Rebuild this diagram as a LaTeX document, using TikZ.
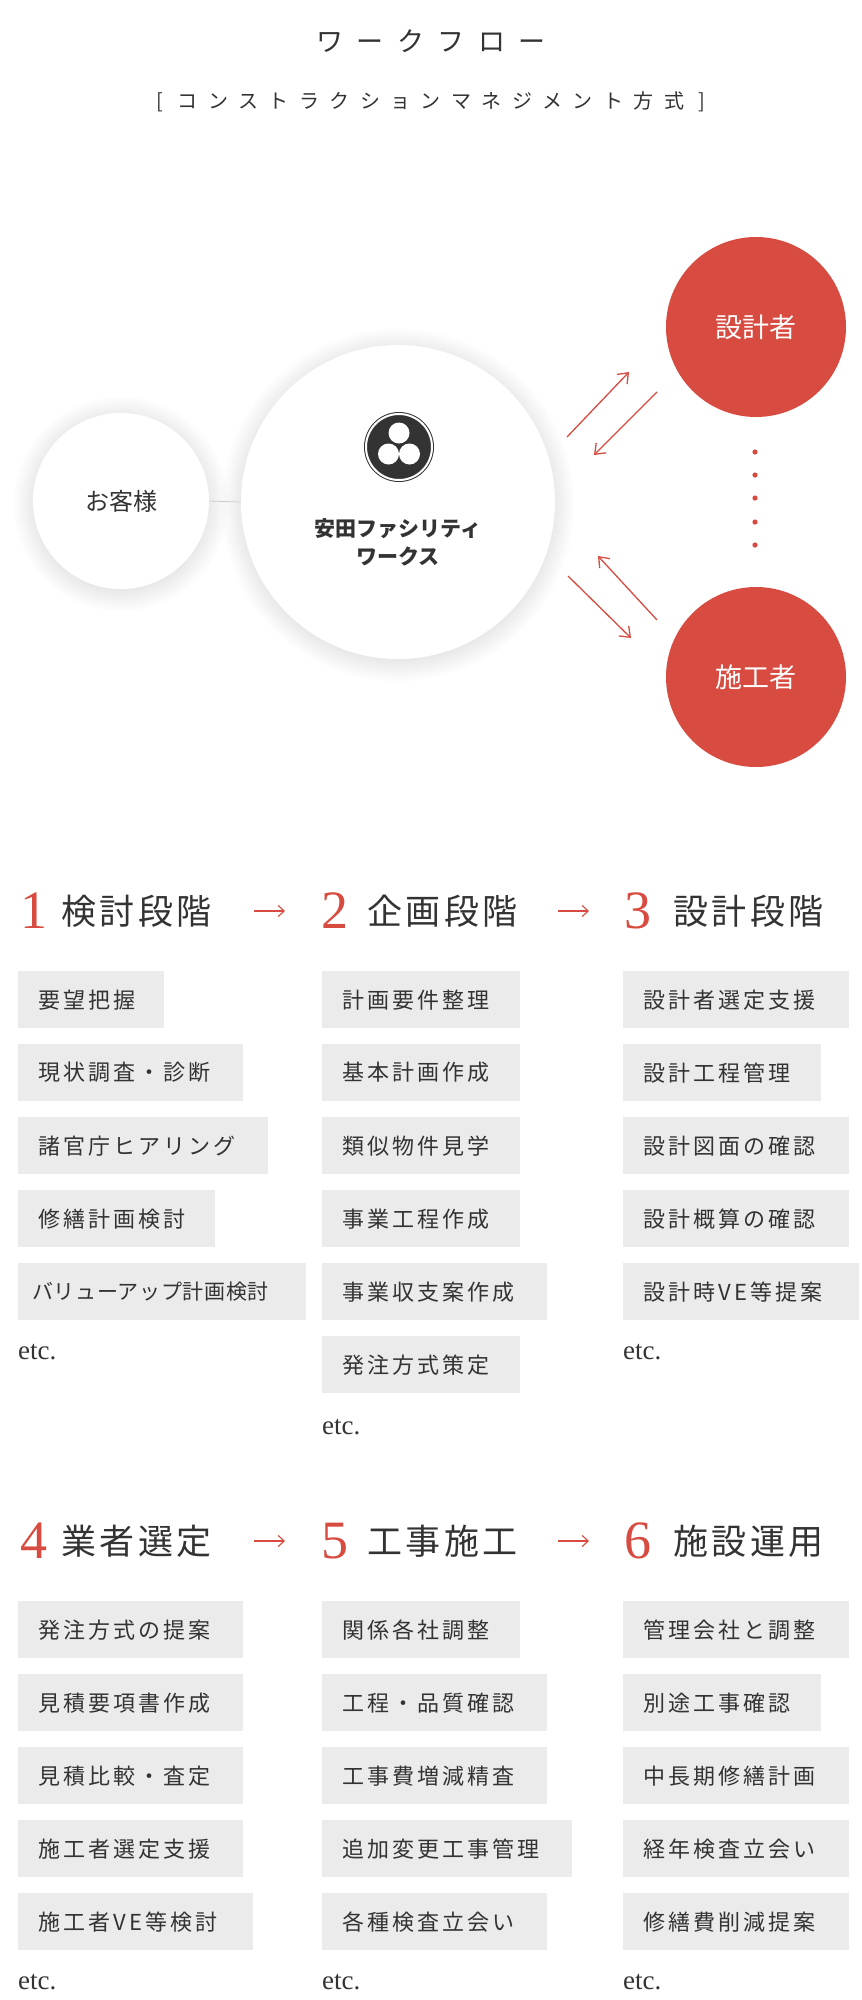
\documentclass[tikz,border=0pt]{standalone}
\usepackage{fontspec}
\setmainfont{Noto Sans CJK JP}
\newfontfamily\jp{Noto Sans CJK JP}
\newfontfamily\lat{Liberation Serif}
\usetikzlibrary{arrows.meta}
\definecolor{accent}{HTML}{D84B40}
\definecolor{boxgray}{HTML}{EBEBEB}
\definecolor{txt}{HTML}{333333}
\tikzset{
  itembox/.style={fill=boxgray,anchor=north west,minimum height=57pt,inner xsep=0pt,inner ysep=0pt,text=txt,font=\fontsize{22}{22}\selectfont\addfontfeature{LetterSpace=14}},
  head/.style={anchor=west,text=txt,font=\fontsize{35}{35}\selectfont\addfontfeature{LetterSpace=10},inner sep=0pt},
  num/.style={anchor=west,text=accent,font=\lat\fontsize{54}{54}\selectfont,inner sep=0pt},
  etcs/.style={anchor=west,text=txt,font=\lat\fontsize{27}{27}\selectfont,inner sep=0pt},
  whitec/.style={circle,fill=white},
  redc/.style={circle,fill=accent,text=white,font=\fontsize{27}{27}\selectfont},
  rarrow/.style={draw=accent,line width=1.3pt,-{Straight Barb[length=9pt,width=14pt]}},
}
\newcommand{\itembox}[5]{\node[itembox,minimum width=#3pt,text width=#3pt] (#5) at (#1,#2) {\hspace*{20pt}#4};}
\newcommand{\softshadow}[3]{\foreach \i in {1,...,22} \fill[black,opacity=0.0035] (#1,#2+3) circle ({#3+\i});}
\begin{document}
\begin{tikzpicture}[x=1pt,y=-1pt]
\useasboundingbox (0,0) rectangle (862,2000);
\fill[white] (0,0) rectangle (862,2000);
% title
\node[text=txt,font=\fontsize{27}{27}\selectfont\addfontfeature{LetterSpace=50}] (title) at (431,41) {ワークフロー};
\node[text=txt,font=\fontsize{20}{20}\selectfont\addfontfeature{LetterSpace=52}] (sub) at (431,102) {[ コンストラクションマネジメント方式 ]};
% diagram
\softshadow{121}{501}{86}
\softshadow{398}{502}{155}
\node[whitec,minimum size=176pt] (cust) at (121,501) {};
\node[whitec,minimum size=314pt] (yasuda) at (398,502) {};
\draw[gray!40,line width=0.8pt] (cust.east) -- (yasuda.west);
\node[text=txt,font=\fontsize{24}{24}\selectfont] (custt) at (121,501) {お客様};
\node[circle,fill=txt,draw=txt,minimum size=66pt,line width=1pt,double=white,double distance=2pt] (logo) at (399,447) {};
\fill[white] (399,433) circle (10.5pt);
\fill[white] (388.5,454) circle (10.5pt);
\fill[white] (409.5,454) circle (10.5pt);
\node[text=txt,font=\bfseries\fontsize{21}{28}\selectfont,align=center] (ytext) at (398,542) {安田ファシリティ\\ワークス};
\node[redc,minimum size=180pt] (des) at (756,327) {設計者};
\node[redc,minimum size=180pt] (con) at (756,677) {施工者};
\foreach \yy in {452,475,498,522,545} \fill[accent] (755,\yy) circle (2.6pt);
\coordinate (a1s) at (567,437); \coordinate (a1e) at (629,372);
\coordinate (a2s) at (657,392); \coordinate (a2e) at (594,455);
\coordinate (a3s) at (568,576); \coordinate (a3e) at (631,638);
\coordinate (a4s) at (657,620); \coordinate (a4e) at (598,556);
\draw[rarrow] (a1s) -- (a1e);
\draw[rarrow] (a2s) -- (a2e);
\draw[rarrow] (a3s) -- (a3e);
\draw[rarrow] (a4s) -- (a4e);
% headings top
\node[num] (n1) at (20,911) {1};
\node[head] (h1) at (61,911) {検討段階};
\node[num] (n2) at (321,911) {2};
\node[head] (h2) at (367,911) {企画段階};
\node[num] (n3) at (624,911) {3};
\node[head] (h3) at (673,911) {設計段階};
\draw[accent,line width=1.1pt,-{Straight Barb[length=6pt,width=11pt]}] (254,911) -- (285,911);
\draw[accent,line width=1.1pt,-{Straight Barb[length=6pt,width=11pt]}] (558,911) -- (589,911);
% top boxes
\itembox{18}{971}{146}{要望把握}{b11}
\itembox{18}{1044}{225}{現状調査・診断}{b12}
\itembox{18}{1117}{250}{諸官庁ヒアリング}{b13}
\itembox{18}{1190}{197}{修繕計画検討}{b14}
\node[itembox,minimum width=288pt,text width=288pt,font=\fontsize{21}{21}\selectfont\addfontfeature{LetterSpace=3}] (b15) at (18,1263) {\hspace*{14pt}バリューアップ計画検討};
\node[etcs] (e1) at (18,1352) {etc.};
\itembox{322}{971}{198}{計画要件整理}{b21}
\itembox{322}{1044}{198}{基本計画作成}{b22}
\itembox{322}{1117}{198}{類似物件見学}{b23}
\itembox{322}{1190}{198}{事業工程作成}{b24}
\itembox{322}{1263}{225}{事業収支案作成}{b25}
\itembox{322}{1336}{198}{発注方式策定}{b26}
\node[etcs] (e2) at (322,1427) {etc.};
\itembox{623}{971}{226}{設計者選定支援}{b31}
\itembox{623}{1044}{198}{設計工程管理}{b32}
\itembox{623}{1117}{226}{設計図面の確認}{b33}
\itembox{623}{1190}{226}{設計概算の確認}{b34}
\itembox{623}{1263}{236}{設計時VE等提案}{b35}
\node[etcs] (e3) at (623,1352) {etc.};
% headings bottom
\node[num] (n4) at (20,1541) {4};
\node[head] (h4) at (61,1541) {業者選定};
\node[num] (n5) at (321,1541) {5};
\node[head] (h5) at (367,1541) {工事施工};
\node[num] (n6) at (624,1541) {6};
\node[head] (h6) at (673,1541) {施設運用};
\draw[accent,line width=1.1pt,-{Straight Barb[length=6pt,width=11pt]}] (254,1541) -- (285,1541);
\draw[accent,line width=1.1pt,-{Straight Barb[length=6pt,width=11pt]}] (558,1541) -- (589,1541);
% bottom boxes
\itembox{18}{1601}{225}{発注方式の提案}{c11}
\itembox{18}{1674}{225}{見積要項書作成}{c12}
\itembox{18}{1747}{225}{見積比較・査定}{c13}
\itembox{18}{1820}{225}{施工者選定支援}{c14}
\itembox{18}{1893}{235}{施工者VE等検討}{c15}
\node[etcs] (e4) at (18,1982) {etc.};
\itembox{322}{1601}{198}{関係各社調整}{c21}
\itembox{322}{1674}{225}{工程・品質確認}{c22}
\itembox{322}{1747}{225}{工事費増減精査}{c23}
\itembox{322}{1820}{250}{追加変更工事管理}{c24}
\itembox{322}{1893}{225}{各種検査立会い}{c25}
\node[etcs] (e5) at (322,1982) {etc.};
\itembox{623}{1601}{226}{管理会社と調整}{c31}
\itembox{623}{1674}{198}{別途工事確認}{c32}
\itembox{623}{1747}{226}{中長期修繕計画}{c33}
\itembox{623}{1820}{226}{経年検査立会い}{c34}
\itembox{623}{1893}{226}{修繕費削減提案}{c35}
\node[etcs] (e6) at (623,1982) {etc.};
\end{tikzpicture}
\end{document}
